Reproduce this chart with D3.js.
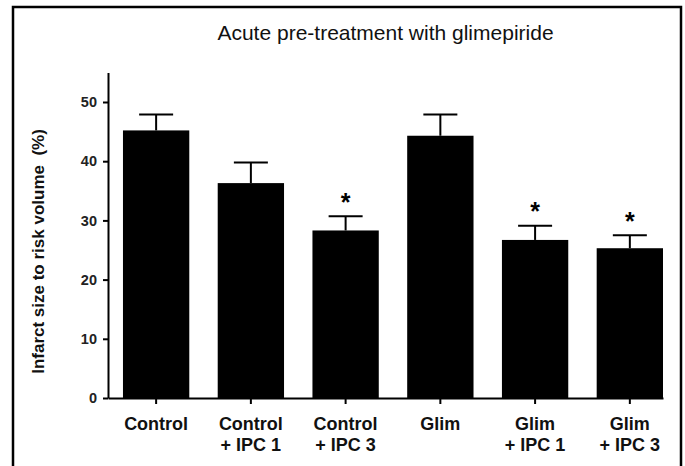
<!DOCTYPE html>
<html>
<head>
<meta charset="utf-8">
<script src="https://cdn.jsdelivr.net/npm/d3@7"></script>
<style>
  html, body { margin: 0; padding: 0; background: #fff; }
  svg { display: block; }
  text { font-family: "Liberation Sans", Arial, Helvetica, sans-serif; }
</style>
</head>
<body>
<svg id="chart" width="685" height="466"></svg>
<script>
// ---- data ----
const categories = [
  ["Control"],
  ["Control", "+ IPC 1"],
  ["Control", "+ IPC 3"],
  ["Glim"],
  ["Glim", "+ IPC 1"],
  ["Glim", "+ IPC 3"]
];
const means = [45.2, 36.3, 28.3, 44.3, 26.7, 25.3];
const sems = [2.7, 3.5, 2.4, 3.6, 2.4, 2.2];
const significant = [false, false, true, false, true, true];
const yTicks = [0, 10, 20, 30, 40, 50];
const titleText = "Acute pre-treatment with glimepiride";
const yLabelText = "Infarct size to risk volume\u00a0\u00a0(%)";

// ---- layout ----
const svg = d3.select("#chart");
const keys = categories.map((c, i) => i);

const x = d3.scaleBand()
  .domain(keys)
  .range([108, 663])
  .paddingInner(0.3)
  .paddingOuter(0.079)
  .align(1);

const y = d3.scaleLinear().domain([0, 55]).range([398, 72.4]);

// frame
svg.append("rect")
  .attr("x", 13).attr("y", 7)
  .attr("width", 668).attr("height", 480)
  .attr("fill", "none").attr("stroke", "#000").attr("stroke-width", 2.5);

// title
svg.append("text")
  .attr("x", 385.5).attr("y", 39.5)
  .attr("text-anchor", "middle")
  .attr("font-size", "21px")
  .attr("fill", "#111")
  .text(titleText);

// bars
svg.append("g").selectAll("rect")
  .data(keys)
  .join("rect")
  .attr("x", i => x(i))
  .attr("width", x.bandwidth())
  .attr("y", i => y(means[i]))
  .attr("height", i => y(0) - y(means[i]))
  .attr("fill", "#000");

// error bars
const eb = svg.append("g").attr("stroke", "#000").attr("stroke-width", 2);
keys.forEach(i => {
  const cx = x(i) + x.bandwidth() / 2;
  const top = y(means[i] + sems[i]);
  eb.append("line").attr("x1", cx).attr("x2", cx)
    .attr("y1", y(means[i])).attr("y2", top);
  eb.append("line").attr("x1", cx - 17).attr("x2", cx + 17)
    .attr("y1", top).attr("y2", top);
});

// significance stars
svg.append("g").selectAll("text")
  .data(keys.filter(i => significant[i]))
  .join("text")
  .attr("x", i => x(i) + x.bandwidth() / 2)
  .attr("y", i => y(means[i] + sems[i]) - 19.5 + 14)
  .attr("text-anchor", "middle")
  .attr("font-size", "25px")
  .attr("font-weight", "bold")
  .text("*");

// y axis
const yAxis = svg.append("g")
  .attr("transform", "translate(108,0)")
  .call(d3.axisLeft(y).tickValues(yTicks).tickSize(5).tickPadding(6).tickSizeOuter(0));
yAxis.select(".domain").attr("stroke-width", 2);
yAxis.selectAll(".tick line").attr("stroke-width", 2);
yAxis.selectAll(".tick text")
  .attr("font-size", "14.5px")
  .attr("font-weight", "bold")
  .attr("font-family", "'Liberation Sans', Arial, sans-serif")
  .attr("fill", "#222");

// x axis
const xAxis = svg.append("g")
  .attr("transform", "translate(0,398)")
  .call(d3.axisBottom(x).tickSize(6).tickSizeOuter(0).tickFormat(() => ""));
xAxis.select(".domain").attr("stroke-width", 2);
xAxis.selectAll(".tick line").attr("stroke-width", 2);
xAxis.selectAll(".tick text").remove();

// x category labels (multi-line)
const lab = svg.append("g");
keys.forEach(i => {
  const cx = x(i) + x.bandwidth() / 2;
  const t = lab.append("text")
    .attr("x", cx)
    .attr("y", 429.5)
    .attr("text-anchor", "middle")
    .attr("font-size", "18px")
    .attr("font-weight", "bold")
    .attr("fill", "#111");
  categories[i].forEach((line, j) => {
    t.append("tspan").attr("x", cx).attr("dy", j === 0 ? 0 : 21).text(line);
  });
});

// y axis label
svg.append("text")
  .attr("transform", "translate(44,251.5) rotate(-90)")
  .attr("text-anchor", "middle")
  .attr("font-size", "17px")
  .attr("font-weight", "bold")
  .attr("fill", "#111")
  .text(yLabelText);
</script>
</body>
</html>
